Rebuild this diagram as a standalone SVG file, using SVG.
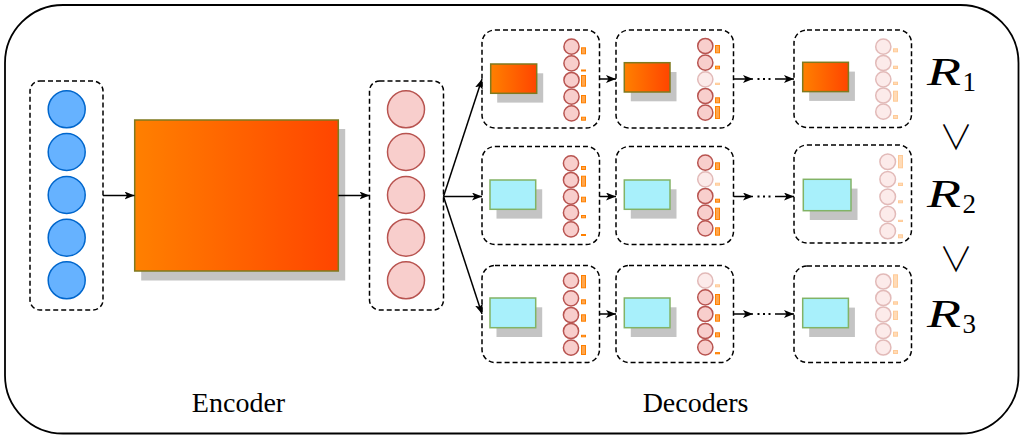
<svg xmlns="http://www.w3.org/2000/svg" width="1025" height="441" viewBox="0 0 1025 441">
<style>
.dash{fill:none;stroke:#000;stroke-width:1.5;stroke-dasharray:5 3}
.sh{fill:#c4c4c4}
.og{fill:url(#og);stroke:#7f7a1f;stroke-width:1.5}
.cy{fill:#a8f0fb;stroke:#82b366;stroke-width:1.5}
.c{fill:#f8cecc;stroke:#b85450;stroke-width:1.5}
.cb{fill:#66b2ff;stroke:#0066cc;stroke-width:1.5}
.b{fill:#ffa64d;stroke:#ff8000;stroke-width:1}
.f{opacity:0.4}
.ln{fill:none;stroke:#000;stroke-width:1.5}
.ar{marker-end:url(#ah)}
.dots{fill:none;stroke:#000;stroke-width:2;stroke-dasharray:2 3.5}
.lbl{font-size:28px;fill:#000}
.R{font-style:italic;font-size:41px;fill:#000}
.sub{font-size:27px;fill:#000}
.or{font-weight:300;font-size:34px;fill:#000}
</style>
<defs>
<linearGradient id="og" x1="0" y1="0" x2="1" y2="0">
<stop offset="0" stop-color="#ff8000"/>
<stop offset="1" stop-color="#ff4500"/>
</linearGradient>
<marker id="ah" markerUnits="userSpaceOnUse" markerWidth="10" markerHeight="8" refX="10" refY="4" orient="auto">
<path d="M0,0 L10,4 L0,8 L2.5,4 z" fill="#000"/>
</marker>
</defs>
<rect x="5" y="5" width="1013.5" height="428.5" rx="58" ry="58" fill="#fff" stroke="#000" stroke-width="1.8"/>

<g id="input">
<rect class="dash" x="30" y="81" width="73" height="229" rx="10"/>
<circle class="cb" cx="66.7" cy="109.3" r="18.5"/>
<circle class="cb" cx="66.7" cy="152" r="18.5"/>
<circle class="cb" cx="66.7" cy="195" r="18.5"/>
<circle class="cb" cx="66.7" cy="237.7" r="18.5"/>
<circle class="cb" cx="66.7" cy="280.3" r="18.5"/>
</g>

<g id="encoder">
<rect class="sh" x="141.2" y="129" width="204" height="151.5"/>
<rect class="og" x="134.7" y="120" width="203.6" height="151"/>
</g>

<g id="latent">
<rect class="dash" x="369.5" y="81" width="74" height="229" rx="10"/>
<circle class="c" cx="406" cy="109.3" r="18.5"/>
<circle class="c" cx="406" cy="152" r="18.5"/>
<circle class="c" cx="406" cy="195" r="18.5"/>
<circle class="c" cx="406" cy="237.7" r="18.5"/>
<circle class="c" cx="406" cy="280.3" r="18.5"/>
</g>

<g id="dec-1-1">
<rect class="dash" x="482" y="30" width="117.5" height="98" rx="13"/>
<rect class="sh" x="497.2" y="73.3" width="46" height="29.3"/>
<rect class="og" x="490.7" y="64" width="46" height="29.3"/>
<circle class="c" cx="571.5" cy="46.7" r="7.6"/>
<circle class="c" cx="571.5" cy="63.3" r="7.6"/>
<circle class="c" cx="571.5" cy="80" r="7.6"/>
<circle class="c" cx="571.5" cy="96.7" r="7.6"/>
<circle class="c" cx="571.5" cy="113.3" r="7.6"/>
<rect class="b" x="581.5" y="47.8" width="4" height="6"/>
<rect class="b" x="581.5" y="70" width="4" height="1"/>
<rect class="b" x="581.5" y="75.5" width="4" height="10.7"/>
<rect class="b" x="581.5" y="95.5" width="4" height="7.3"/>
<rect class="b" x="581.5" y="117.2" width="4" height="3"/>
</g>

<g id="dec-1-2">
<rect class="dash" x="616" y="30" width="117.5" height="98" rx="13"/>
<rect class="sh" x="630.8" y="72" width="45.7" height="29.3"/>
<rect class="og" x="624.3" y="62.7" width="45.7" height="29.3"/>
<circle class="c" cx="705.3" cy="46" r="7.6"/>
<circle class="c" cx="705.3" cy="62.7" r="7.6"/>
<circle class="c f" cx="705.3" cy="79.3" r="7.6"/>
<circle class="c" cx="705.3" cy="96" r="7.6"/>
<circle class="c" cx="705.3" cy="112.7" r="7.6"/>
<rect class="b" x="715.5" y="45.5" width="4" height="7.3"/>
<rect class="b" x="715.5" y="66.2" width="4" height="2.6"/>
<rect class="b f" x="715.5" y="83.2" width="4" height="1.3"/>
<rect class="b" x="715.5" y="97.8" width="4" height="5"/>
<rect class="b" x="715.5" y="106.5" width="4" height="12"/>
</g>

<g id="dec-1-3">
<rect class="dash" x="794" y="30" width="117.5" height="97.5" rx="13"/>
<rect class="sh" x="809.2" y="71.6" width="45.7" height="29.3"/>
<rect class="og" x="802.7" y="62.3" width="45.7" height="29.3"/>
<g class="f">
<circle class="c" cx="883.3" cy="46.7" r="7.6"/>
<circle class="c" cx="883.3" cy="63" r="7.6"/>
<circle class="c" cx="883.3" cy="79.3" r="7.6"/>
<circle class="c" cx="883.3" cy="95.5" r="7.6"/>
<circle class="c" cx="883.3" cy="111.7" r="7.6"/>
<rect class="b" x="893.5" y="48.8" width="4" height="3"/>
<rect class="b" x="893.5" y="66.2" width="4" height="2.3"/>
<rect class="b" x="893.5" y="82.2" width="4" height="2.3"/>
<rect class="b" x="893.5" y="91.2" width="4" height="10"/>
<rect class="b" x="893.5" y="115.5" width="4" height="3"/>
</g>
</g>

<g id="dec-2-1">
<rect class="dash" x="482" y="146.5" width="117.5" height="98" rx="13"/>
<rect class="sh" x="496.5" y="189.3" width="45.7" height="29.3"/>
<rect class="cy" x="490" y="180" width="45.7" height="29.3"/>
<circle class="c" cx="571" cy="163.3" r="7.6"/>
<circle class="c" cx="571" cy="180" r="7.6"/>
<circle class="c" cx="571" cy="196.7" r="7.6"/>
<circle class="c" cx="571" cy="212.7" r="7.6"/>
<circle class="c" cx="571" cy="229.3" r="7.6"/>
<rect class="b" x="581.5" y="166.5" width="4" height="3"/>
<rect class="b" x="581.5" y="176.2" width="4" height="10"/>
<rect class="b" x="581.5" y="197.2" width="4" height="4.6"/>
<rect class="b" x="581.5" y="215.5" width="4" height="2.3"/>
<rect class="b" x="581.5" y="234.5" width="4" height="1"/>
</g>

<g id="dec-2-2">
<rect class="dash" x="616" y="146.5" width="117.5" height="98" rx="13"/>
<rect class="sh" x="630.8" y="189.3" width="45.7" height="29.3"/>
<rect class="cy" x="624.3" y="180" width="45.7" height="29.3"/>
<circle class="c" cx="705.3" cy="162.7" r="7.6"/>
<circle class="c f" cx="705.3" cy="179.3" r="7.6"/>
<circle class="c" cx="705.3" cy="196" r="7.6"/>
<circle class="c" cx="705.3" cy="212.7" r="7.6"/>
<circle class="c" cx="705.3" cy="228.3" r="7.6"/>
<rect class="b" x="715.5" y="162.8" width="4" height="6.7"/>
<rect class="b f" x="715.5" y="183.2" width="4" height="2"/>
<rect class="b" x="715.5" y="199.2" width="4" height="3"/>
<rect class="b" x="715.5" y="208.2" width="4" height="11.3"/>
<rect class="b" x="715.5" y="227.8" width="4" height="7.4"/>
</g>

<g id="dec-2-3">
<rect class="dash" x="794" y="145" width="117.5" height="98" rx="13"/>
<rect class="sh" x="809.8" y="188.6" width="47.7" height="31.4"/>
<rect class="cy" x="803.3" y="179.3" width="47.7" height="31.4"/>
<g class="f">
<circle class="c" cx="887.7" cy="161.7" r="7.8"/>
<circle class="c" cx="887.7" cy="179.3" r="7.8"/>
<circle class="c" cx="887.7" cy="196.7" r="7.8"/>
<circle class="c" cx="887.7" cy="214" r="7.8"/>
<circle class="c" cx="887.7" cy="231" r="7.8"/>
<rect class="b" x="898.5" y="155.5" width="4" height="12.3"/>
<rect class="b" x="898.5" y="183.2" width="4" height="2.3"/>
<rect class="b" x="898.5" y="200.8" width="4" height="2"/>
<rect class="b" x="898.5" y="220.3" width="4" height="1.2"/>
<rect class="b" x="898.5" y="234.8" width="4" height="3"/>
</g>
</g>

<g id="dec-3-1">
<rect class="dash" x="482" y="265.5" width="117.5" height="97" rx="13"/>
<rect class="sh" x="496.5" y="307.3" width="45.7" height="29.7"/>
<rect class="cy" x="490" y="298" width="45.7" height="29.7"/>
<circle class="c" cx="571" cy="280.7" r="7.6"/>
<circle class="c" cx="571" cy="298.3" r="7.6"/>
<circle class="c" cx="571" cy="315" r="7.6"/>
<circle class="c" cx="571" cy="331" r="7.6"/>
<circle class="c" cx="571" cy="347.7" r="7.6"/>
<rect class="b" x="581.5" y="275.5" width="4" height="12.3"/>
<rect class="b" x="581.5" y="299.8" width="4" height="4"/>
<rect class="b" x="581.5" y="314.8" width="4" height="6.4"/>
<rect class="b" x="581.5" y="335.3" width="4" height="1.5"/>
<rect class="b" x="581.5" y="345.5" width="4" height="9"/>
</g>

<g id="dec-3-2">
<rect class="dash" x="616" y="265.5" width="117.5" height="97" rx="13"/>
<rect class="sh" x="630.8" y="307.3" width="45.7" height="29.7"/>
<rect class="cy" x="624.3" y="298" width="45.7" height="29.7"/>
<circle class="c f" cx="705.3" cy="280.7" r="7.6"/>
<circle class="c" cx="705.3" cy="297.3" r="7.6"/>
<circle class="c" cx="705.3" cy="314" r="7.6"/>
<circle class="c" cx="705.3" cy="331" r="7.6"/>
<circle class="c" cx="705.3" cy="347.3" r="7.6"/>
<rect class="b f" x="715.5" y="284.8" width="4" height="2"/>
<rect class="b" x="715.5" y="294.5" width="4" height="10"/>
<rect class="b" x="715.5" y="314.8" width="4" height="6.4"/>
<rect class="b" x="715.5" y="332.8" width="4" height="4"/>
<rect class="b" x="715.5" y="352.6" width="4" height="1.2"/>
</g>

<g id="dec-3-3">
<rect class="dash" x="794" y="266" width="117.5" height="96.5" rx="13"/>
<rect class="sh" x="809.2" y="307.6" width="45.7" height="29.4"/>
<rect class="cy" x="802.7" y="298.3" width="45.7" height="29.4"/>
<g class="f">
<circle class="c" cx="883.3" cy="281.5" r="7.6"/>
<circle class="c" cx="883.3" cy="298" r="7.6"/>
<circle class="c" cx="883.3" cy="314.5" r="7.6"/>
<circle class="c" cx="883.3" cy="331" r="7.6"/>
<circle class="c" cx="883.3" cy="347.5" r="7.6"/>
<rect class="b" x="893.5" y="274.8" width="4" height="12.4"/>
<rect class="b" x="893.5" y="301.8" width="4" height="2.4"/>
<rect class="b" x="893.5" y="311.2" width="4" height="8.3"/>
<rect class="b" x="893.5" y="332.2" width="4" height="4"/>
<rect class="b" x="893.5" y="350.5" width="4" height="3"/>
</g>
</g>

<g id="connectors">
<line class="ln ar" x1="103" y1="195.5" x2="134.5" y2="195.5"/>
<line class="ln ar" x1="338.3" y1="195.5" x2="369.5" y2="195.5"/>
<line class="ln ar" x1="443.5" y1="196.5" x2="482" y2="79"/>
<line class="ln ar" x1="443.5" y1="196.5" x2="482" y2="196.5"/>
<line class="ln ar" x1="443.5" y1="196.5" x2="482" y2="314"/>
<line class="ln ar" x1="599.5" y1="79" x2="616" y2="79"/>
<line class="ln ar" x1="733.5" y1="79" x2="753" y2="79"/>
<line class="dots" x1="757.5" y1="79" x2="771" y2="79"/>
<line class="ln ar" x1="775" y1="79" x2="794" y2="79"/>
<line class="ln ar" x1="599.5" y1="196.5" x2="616" y2="196.5"/>
<line class="ln ar" x1="733.5" y1="196.5" x2="753" y2="196.5"/>
<line class="dots" x1="757.5" y1="196.5" x2="771" y2="196.5"/>
<line class="ln ar" x1="775" y1="196.5" x2="794" y2="196.5"/>
<line class="ln ar" x1="599.5" y1="314" x2="616" y2="314"/>
<line class="ln ar" x1="733.5" y1="314" x2="753" y2="314"/>
<line class="dots" x1="757.5" y1="314" x2="771" y2="314"/>
<line class="ln ar" x1="775" y1="314" x2="794" y2="314"/>
</g>

<g id="ranks">
<text class="R" font-family="Liberation Serif, serif" x="927" y="85" textLength="34" lengthAdjust="spacingAndGlyphs">R</text><text class="sub" font-family="Liberation Serif, serif" x="962.5" y="90.5">1</text>
<text class="or" font-family="Noto Sans CJK JP, sans-serif" x="956" y="150" text-anchor="middle">∨</text>
<text class="R" font-family="Liberation Serif, serif" x="927" y="206.7" textLength="34" lengthAdjust="spacingAndGlyphs">R</text><text class="sub" font-family="Liberation Serif, serif" x="962.5" y="212.5">2</text>
<text class="or" font-family="Noto Sans CJK JP, sans-serif" x="956" y="271.7" text-anchor="middle">∨</text>
<text class="R" font-family="Liberation Serif, serif" x="927" y="326.7" textLength="34" lengthAdjust="spacingAndGlyphs">R</text><text class="sub" font-family="Liberation Serif, serif" x="962.5" y="332.5">3</text>
</g>

<g id="labels">
<text class="lbl" font-family="Liberation Serif, serif" x="238.5" y="411.7" text-anchor="middle">Encoder</text>
<text class="lbl" font-family="Liberation Serif, serif" x="695.5" y="411.7" text-anchor="middle">Decoders</text>
</g>
</svg>
